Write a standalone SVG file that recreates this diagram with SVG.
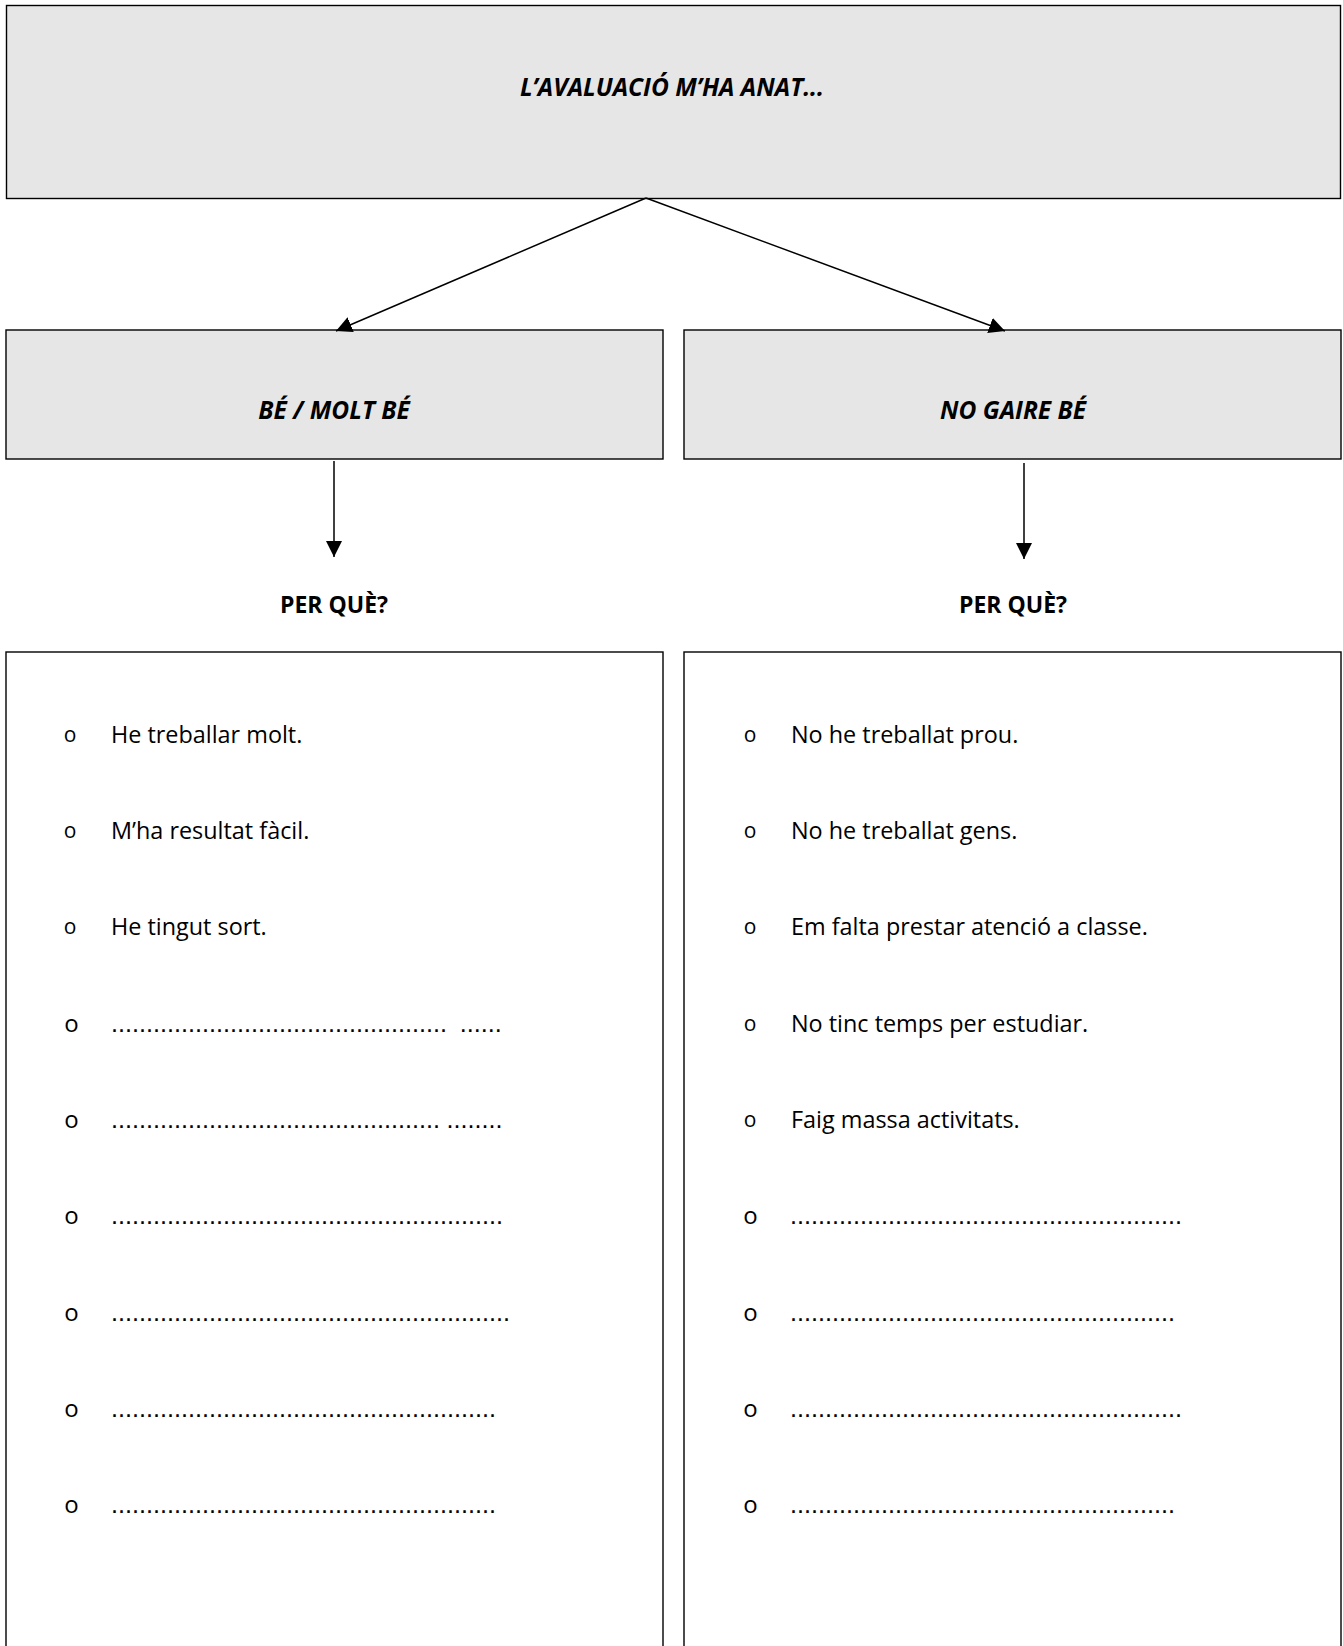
<svg xmlns="http://www.w3.org/2000/svg" width="1343" height="1646" viewBox="0 0 1343 1646">
<style>
.box{fill:#e6e6e6;stroke:#000;stroke-width:1.4}
.wbox{fill:#fff;stroke:#000;stroke-width:1.4}
.hd{font-family:"Open Sans","Noto Sans",sans-serif;font-weight:bold;font-style:italic;font-size:24.5px;fill:#000;text-anchor:middle}
.pq{font-family:"Open Sans","Noto Sans",sans-serif;font-weight:bold;font-size:23px;fill:#000;text-anchor:middle}
.tx{font-family:"Open Sans","Noto Sans",sans-serif;font-size:23.4px;fill:#000}
.dt{font-family:"Liberation Sans",Arial,sans-serif;font-size:25.2px;fill:#000}
.b1{font-family:"Open Sans","Noto Sans",sans-serif;font-size:21px;fill:#000;text-anchor:middle}
.b2{font-family:"Open Sans","Noto Sans",sans-serif;font-size:24px;fill:#000;text-anchor:middle}
.cn{stroke:#000;stroke-width:1.5;fill:none}
</style>
<defs>
<marker id="ah" viewBox="0 0 16 16" refX="16" refY="8" markerWidth="16" markerHeight="16" markerUnits="userSpaceOnUse" orient="auto">
<path d="M0,0 L16,8 L0,16 z" fill="#000"/>
</marker>
</defs>
<rect width="1343" height="1646" fill="#fff"/>
<g id="title">
<rect class="box" x="6.5" y="5.5" width="1334" height="193"/>
<text class="hd" x="672" y="96">L’AVALUACIÓ M’HA ANAT...</text>
</g>
<g id="be">
<rect class="box" x="6" y="330" width="657" height="129"/>
<text class="hd" x="334" y="419">BÉ / MOLT BÉ</text>
</g>
<g id="nogaire">
<rect class="box" x="684" y="330" width="657" height="129"/>
<text class="hd" x="1013" y="419">NO GAIRE BÉ</text>
</g>
<g id="perque-left">
<text class="pq" x="334" y="613">PER QUÈ?</text>
</g>
<g id="perque-right">
<text class="pq" x="1013" y="613">PER QUÈ?</text>
</g>
<g id="list-left">
<rect class="wbox" x="6" y="652" width="657" height="1010"/>
<text class="b1" x="70" y="742">o</text><text class="tx" x="111" y="743">He treballar molt.</text>
<text class="b1" x="70" y="838">o</text><text class="tx" x="111" y="839">M’ha resultat fàcil.</text>
<text class="b1" x="70" y="934">o</text><text class="tx" x="111" y="935">He tingut sort.</text>
<text class="b2" x="71.5" y="1032">o</text><text class="dt" x="111" y="1032">................................................<tspan x="459.7">......</tspan></text>
<text class="b2" x="71.5" y="1128">o</text><text class="dt" x="111" y="1128">...............................................<tspan x="446.4">........</tspan></text>
<text class="b2" x="71.5" y="1224">o</text><text class="dt" x="111" y="1224">........................................................</text>
<text class="b2" x="71.5" y="1321">o</text><text class="dt" x="111" y="1321">.........................................................</text>
<text class="b2" x="71.5" y="1417">o</text><text class="dt" x="111" y="1417">.......................................................</text>
<text class="b2" x="71.5" y="1513">o</text><text class="dt" x="111" y="1513">.......................................................</text>
</g>
<g id="list-right">
<rect class="wbox" x="684" y="652" width="657" height="1010"/>
<text class="b1" x="750" y="742">o</text><text class="tx" x="791" y="743">No he treballat prou.</text>
<text class="b1" x="750" y="838">o</text><text class="tx" x="791" y="839">No he treballat gens.</text>
<text class="b1" x="750" y="934">o</text><text class="tx" x="791" y="935">Em falta prestar atenció a classe.</text>
<text class="b1" x="750" y="1031">o</text><text class="tx" x="791" y="1032">No tinc temps per estudiar.</text>
<text class="b1" x="750" y="1127">o</text><text class="tx" x="791" y="1128">Faig massa activitats.</text>
<text class="b2" x="750.5" y="1224">o</text><text class="dt" x="790" y="1224">........................................................</text>
<text class="b2" x="750.5" y="1321">o</text><text class="dt" x="790" y="1321">.......................................................</text>
<text class="b2" x="750.5" y="1417">o</text><text class="dt" x="790" y="1417">........................................................</text>
<text class="b2" x="750.5" y="1513">o</text><text class="dt" x="790" y="1513">.......................................................</text>
</g>
<g id="connectors">
<line class="cn" x1="646" y1="198" x2="336" y2="331" marker-end="url(#ah)"/>
<line class="cn" x1="646" y1="198" x2="1005" y2="331" marker-end="url(#ah)"/>
<line class="cn" x1="334" y1="461" x2="334" y2="557" marker-end="url(#ah)"/>
<line class="cn" x1="1024" y1="463" x2="1024" y2="559" marker-end="url(#ah)"/>
</g>
</svg>
